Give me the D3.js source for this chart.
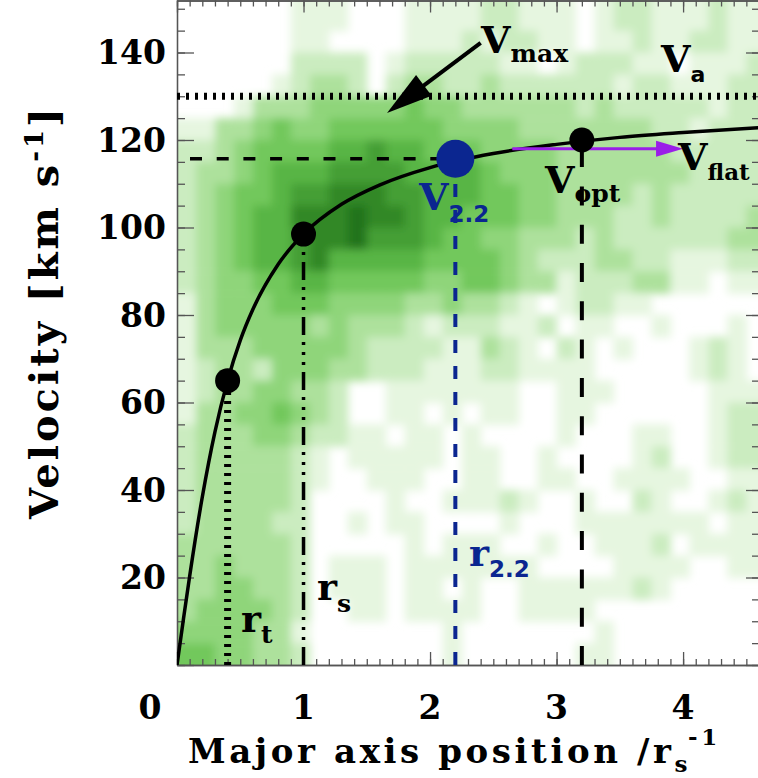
<!DOCTYPE html>
<html>
<head>
<script src="https://d3js.org/d3.v7.min.js"></script>
<style>
  body { margin: 0; background: #fff; }
  svg text { font-family: "DejaVu Serif", serif; font-weight: bold; }
  svg text .sans { font-family: "DejaVu Sans", sans-serif; }
</style>
</head>
<body>
<div class="chart"></div>
<script>
var w = 758, h = 778;
var left = 177, right = 759, bottom = 665;

// 2D histogram, one row per 5 km/s from the top (150-155) down to (0-5),
// one digit per 0.15 r_s column, 0 = empty ... 9 = darkest
var densityRows = [
  "0000001110001111221110122111211",
  "0000001110001111221110122111211",
  "0000001100001112122110112112211",
  "0000002222012222211012221101112",
  "0000012332023322322222212211122",
  "0001333444445443333332322222122",
  "1133454455555544443333333221222",
  "2234555566766555444433333322222",
  "2334566677776666544433333332222",
  "2345567788877666554433332322222",
  "2345668889887665554433322322223",
  "2345667889777655443332322222233",
  "2345667866666555543222332211122",
  "2344556655555445543312223311011",
  "1344455544443343321012211000000",
  "1344444343332122211201100100010",
  "1333444443222211321021010001210",
  "1233244433222111221111000001210",
  "1233443320011111110011100000111",
  "1334454320011010110011000000122",
  "2333443221101101000010001100122",
  "2333332101111101100100001200122",
  "2333332100111001100110011110011",
  "2333332000010011121001002100121",
  "2333322001011000010001111111011",
  "3333332000001011100100111201111",
  "3343332011101111111000011110011",
  "3344332011101101001111112100000",
  "3444432001101111001111000000000",
  "4444331000000010000000100000000",
  "5544332000000010000001100000000"
];
var cellW = 0.15, cellH = 5;

// rotation curve
var curveR = [0, 0.05, 0.1, 0.2, 0.3, 0.4, 0.5, 0.6, 0.8, 1.0, 1.3, 1.6, 2.0, 2.5, 3.0, 3.5, 4.0, 4.6];
var curveV = [0, 10.3, 20.3, 38.4, 53.3, 65, 74.2, 81.3, 91.6, 98.5, 105.3, 109.7, 113.7, 116.9, 119.0, 120.6, 121.7, 122.8];

// marked points: r_t, r_s, r_opt (black) and r_2.2 (blue)
var pointR = [0.4, 1.0, 3.2];
var pointV = [65, 98.5, 120];
var r22 = 2.2, v22 = 115.7;
var vA = 130;

// arrows
var vmaxFrom = [2.40, 142.2], vmaxTo = [1.66, 126.2];
var flatFrom = [2.65, 118], flatTo = [4.0, 118];

var xTicks = [0, 1, 2, 3, 4];
var yTicks = [20, 40, 60, 80, 100, 120, 140];

var levelColors = ["#ffffff", "#e6f6e0", "#cbecc0", "#ade19c", "#8fd57a", "#72c85c", "#58b545", "#449f34", "#328826", "#23731a"];
var blue = "#0b2690", purple = "#9a1ee8";

var svg = d3.select(".chart").append("svg")
  .attr("width", w)
  .attr("height", h);

var x = d3.scaleLinear().domain([0, 4.6]).range([left, right]);
var y = d3.scaleLinear().domain([0, 152]).range([bottom, 0]);

var defs = svg.append("defs");
defs.append("clipPath").attr("id", "plotclip")
  .append("rect").attr("x", left).attr("y", 0).attr("width", right - left).attr("height", bottom);
defs.append("filter").attr("id", "soft")
  .attr("filterUnits", "userSpaceOnUse")
  .attr("x", left - 40).attr("y", -40).attr("width", right - left + 80).attr("height", bottom + 80)
  .append("feGaussianBlur").attr("stdDeviation", 4);

// histogram cells
var nRows = densityRows.length, nCols = densityRows[0].length;
var cells = [];
densityRows.forEach(function(row, i) {
  for (var j = 0; j < row.length; j++) {
    var lev = +row[j];
    if (lev > 0) cells.push({ row: nRows - 1 - i, col: j, level: lev });
  }
});

svg.append("g").attr("clip-path", "url(#plotclip)")
  .append("g").attr("filter", "url(#soft)")
  .selectAll("rect")
  .data(cells)
  .enter()
  .append("rect")
  .attr("x", function(d) { return x(d.col * cellW) - (d.col == 0 ? 14 : 0); })
  .attr("y", function(d) { return y((d.row + 1) * cellH) - (d.row == nRows - 1 ? 14 : 0); })
  .attr("width", function(d) {
    return x((d.col + 1) * cellW) - x(d.col * cellW) + 0.6 + (d.col == 0 ? 14 : 0) + (d.col == nCols - 1 ? 14 : 0);
  })
  .attr("height", function(d) {
    return y(d.row * cellH) - y((d.row + 1) * cellH) + 0.6 + (d.row == 0 ? 14 : 0) + (d.row == nRows - 1 ? 14 : 0);
  })
  .attr("fill", function(d) { return levelColors[d.level]; });

// axes: ticks only, labels drawn below
var minorX = d3.range(0, 47).map(function(i) { return i / 10; });
var minorY = d3.range(0, 31).map(function(i) { return i * 5; });
var majorY = d3.range(0, 8).map(function(i) { return i * 20; });

function tickAxis(axis, values, size) {
  return axis.tickValues(values).tickSize(size).tickSizeOuter(0).tickFormat("");
}
var axes = svg.append("g").attr("class", "axes");
axes.append("g").attr("transform", "translate(0," + bottom + ")").call(tickAxis(d3.axisBottom(x), minorX, -6));
axes.append("g").attr("transform", "translate(0," + bottom + ")").call(tickAxis(d3.axisBottom(x), xTicks, -13));
axes.append("g").attr("transform", "translate(0,0.5)").call(tickAxis(d3.axisTop(x), minorX, -6));
axes.append("g").attr("transform", "translate(0,0.5)").call(tickAxis(d3.axisTop(x), xTicks, -12));
axes.append("g").attr("transform", "translate(" + left + ",0)").call(tickAxis(d3.axisLeft(y), minorY, -8));
axes.append("g").attr("transform", "translate(" + left + ",0)").call(tickAxis(d3.axisLeft(y), majorY, -17));
axes.append("g").attr("transform", "translate(" + right + ",0)").call(tickAxis(d3.axisRight(y), minorY, -7));
axes.append("g").attr("transform", "translate(" + right + ",0)").call(tickAxis(d3.axisRight(y), majorY, -13));
axes.selectAll("path, line").attr("stroke", "#555").attr("stroke-width", 1.3);

// tick labels
svg.selectAll(".ylab").data(yTicks).enter().append("text")
  .attr("class", "ylab")
  .attr("x", 166)
  .attr("y", function(d) { return y(d); })
  .attr("dy", "0.36em")
  .attr("text-anchor", "end")
  .attr("font-size", 33)
  .text(function(d) { return d; });
svg.selectAll(".xlab").data(xTicks).enter().append("text")
  .attr("class", "xlab")
  .attr("x", function(d) { return d == 0 ? x(d) - 27 : x(d); })
  .attr("y", 719)
  .attr("text-anchor", "middle")
  .attr("font-size", 33)
  .text(function(d) { return d; });

// axis titles
var yt = svg.append("text")
  .attr("transform", "translate(58,312) rotate(-90)")
  .attr("text-anchor", "middle")
  .attr("font-size", 40)
  .attr("letter-spacing", 3);
yt.append("tspan").text("Velocity [km s");
yt.append("tspan").attr("font-size", 26).attr("dy", -15).text("-1");
yt.append("tspan").attr("dy", 15).text("]");

var xt = svg.append("text")
  .attr("x", 188)
  .attr("y", 763)
  .attr("font-size", 34)
  .attr("letter-spacing", 3.6);
xt.append("tspan").text("Major axis position /r");
xt.append("tspan").attr("font-size", 23).attr("dy", 9).text("s");
xt.append("tspan").attr("font-size", 23).attr("dy", -27).attr("dx", -3).text("-1");

// guide lines
var guides = svg.append("g").attr("fill", "none");
function vline(r, v, color, width, dash) {
  guides.append("line")
    .attr("x1", x(r)).attr("x2", x(r))
    .attr("y1", y(0)).attr("y2", y(v))
    .attr("stroke", color).attr("stroke-width", width)
    .attr("stroke-dasharray", dash);
}
guides.append("line")
  .attr("x1", x(0)).attr("x2", right)
  .attr("y1", y(vA)).attr("y2", y(vA))
  .attr("stroke", "#000").attr("stroke-width", 7)
  .attr("stroke-dasharray", "3,6");
guides.append("line")
  .attr("x1", x(0)).attr("x2", x(r22))
  .attr("y1", y(v22)).attr("y2", y(v22))
  .attr("stroke", "#000").attr("stroke-width", 3.5)
  .attr("stroke-dasharray", "12,14.7")
  .attr("stroke-dashoffset", 13.7);
vline(pointR[0], pointV[0], "#000", 7, "3,6");
vline(pointR[1], pointV[1], "#000", 3.5, "18,7,3,7,3,7,3,7");
vline(r22, v22, blue, 4, "13,13");
vline(pointR[2], pointV[2], "#000", 4, "19,19.3");

// rotation curve
var line = d3.line()
  .x(function(d) { return x(d[0]); })
  .y(function(d) { return y(d[1]); })
  .curve(d3.curveMonotoneX);
svg.append("g").attr("clip-path", "url(#plotclip)")
  .append("path")
  .attr("d", line(d3.zip(curveR, curveV)))
  .attr("fill", "none")
  .attr("stroke", "#000")
  .attr("stroke-width", 3.5);

// arrows
function arrow(from, to, color, width, headLen, headHalf) {
  var x0 = x(from[0]), y0 = y(from[1]), x1 = x(to[0]), y1 = y(to[1]);
  var len = Math.sqrt((x1 - x0) * (x1 - x0) + (y1 - y0) * (y1 - y0));
  var ux = (x1 - x0) / len, uy = (y1 - y0) / len;
  var bx = x1 - ux * headLen, by = y1 - uy * headLen;
  svg.append("line")
    .attr("x1", x0).attr("y1", y0).attr("x2", bx + ux * 2).attr("y2", by + uy * 2)
    .attr("stroke", color).attr("stroke-width", width);
  svg.append("path")
    .attr("d", "M" + x1 + "," + y1 +
      "L" + (bx - uy * headHalf) + "," + (by + ux * headHalf) +
      "L" + (bx + uy * headHalf) + "," + (by - ux * headHalf) + "Z")
    .attr("fill", color);
}
arrow(vmaxFrom, vmaxTo, "#000", 4, 46, 13);
arrow(flatFrom, flatTo, purple, 3, 27, 8);

// points
svg.selectAll(".pt").data(d3.zip(pointR, pointV)).enter().append("circle")
  .attr("class", "pt")
  .attr("cx", function(d) { return x(d[0]); })
  .attr("cy", function(d) { return y(d[1]); })
  .attr("r", 12.5)
  .attr("fill", "#000");
svg.append("circle")
  .attr("cx", x(r22)).attr("cy", y(v22))
  .attr("r", 19)
  .attr("fill", blue);

// labels
function label(px, py, main, sub, subDy, color, sans, subSize) {
  var t = svg.append("text").attr("x", px).attr("y", py).attr("fill", color).attr("font-size", 38);
  t.append("tspan").text(main);
  var s = t.append("tspan").attr("font-size", subSize || 25).attr("dy", subDy).text(sub);
  if (sans) s.attr("class", "sans");
}
label(481, 53, "V", "max", 9, "#000");
label(661, 72, "V", "a", 10, "#000", true, 22);
label(678, 170, "V", "flat", 10, "#000", false, 23);
label(545, 193, "V", "opt", 9, "#000");
label(419, 210, "V", "2.2", 12, blue, true, 23);
label(241, 632, "r", "t", 11, "#000");
label(317, 600, "r", "s", 12, "#000");
label(469, 566, "r", "2.2", 11, blue, true, 23);
</script>
</body>
</html>
